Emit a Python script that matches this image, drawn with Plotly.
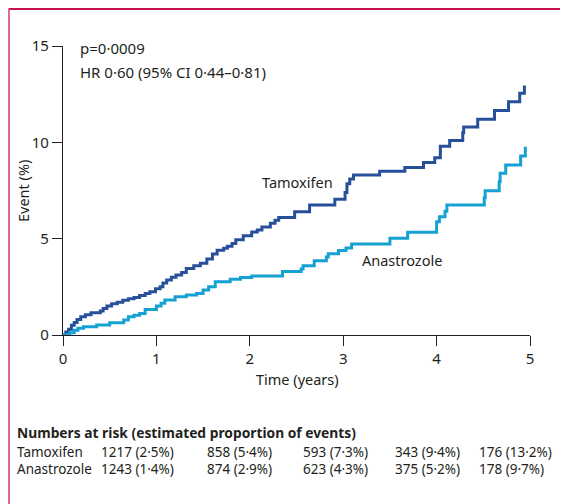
import plotly.graph_objects as go

# ---------------- data ----------------
tam_t = [0, 0.03, 0.06, 0.09, 0.12, 0.15, 0.19, 0.24, 0.30, 0.40, 0.43, 0.47, 0.52, 0.58,
         0.64, 0.70, 0.76, 0.82, 0.88, 0.93, 0.99, 1.04, 1.07, 1.11, 1.16, 1.21, 1.27, 1.32,
         1.40, 1.47, 1.54, 1.60, 1.65, 1.72, 1.76, 1.81, 1.85, 1.93, 2.02, 2.08, 2.13, 2.22,
         2.27, 2.31, 2.48, 2.64, 2.91, 3.02, 3.04, 3.07, 3.11, 3.39, 3.66, 3.86, 3.98, 4.04,
         4.14, 4.28, 4.29, 4.44, 4.62, 4.77, 4.89, 4.94]
tam_v = [0, 0.15, 0.3, 0.5, 0.65, 0.8, 0.95, 1.05, 1.15, 1.25, 1.38, 1.5, 1.62, 1.7,
         1.8, 1.88, 1.95, 2.05, 2.15, 2.25, 2.4, 2.5, 2.7, 2.85, 3.0, 3.12, 3.25, 3.45,
         3.6, 3.72, 3.95, 4.2, 4.4, 4.5, 4.6, 4.75, 4.95, 5.15, 5.35, 5.45, 5.6, 5.8,
         5.95, 6.1, 6.4, 6.75, 7.05, 7.4, 7.85, 8.1, 8.3, 8.5, 8.7, 8.95, 9.2, 9.8,
         10.1, 10.5, 10.8, 11.2, 11.65, 12.1, 12.55, 12.95]

ana_t = [0, 0.07, 0.12, 0.16, 0.22, 0.36, 0.50, 0.65, 0.70, 0.76, 0.82, 0.88, 1.00, 1.05,
         1.09, 1.20, 1.32, 1.43, 1.50, 1.56, 1.63, 1.79, 1.90, 2.02, 2.35, 2.55, 2.57, 2.69,
         2.82, 2.84, 2.95, 3.03, 3.09, 3.50, 3.69, 4.00, 4.03, 4.09, 4.11, 4.51, 4.52, 4.67,
         4.68, 4.74, 4.90, 4.95]
ana_v = [0, 0.12, 0.25, 0.35, 0.43, 0.52, 0.64, 0.78, 0.95, 1.02, 1.12, 1.33, 1.5, 1.65,
         1.82, 1.99, 2.08, 2.16, 2.33, 2.51, 2.77, 2.9, 2.99, 3.06, 3.29, 3.42, 3.6, 3.86,
         4.05, 4.22, 4.38, 4.52, 4.72, 5.02, 5.33, 5.88, 6.14, 6.42, 6.75, 7.13, 7.49, 7.96,
         8.39, 8.82, 9.29, 9.77]

x_ticks = [0, 1, 2, 3, 4, 5]
y_ticks = [0, 5, 10, 15]

risk_groups = ["Tamoxifen", "Anastrozole"]
risk_tam = ["1217 (2·5%)", "858 (5·4%)", "593 (7·3%)", "343 (9·4%)", "176 (13·2%)"]
risk_ana = ["1243 (1·4%)", "874 (2·9%)", "623 (4·3%)", "375 (5·2%)", "178 (9·7%)"]

# ---------------- layout helpers ----------------
OFF = 8  # page body margin
W, H = 560, 496
L, R, T, B = 55, 38, 38, 169
PW, PH = W - L - R, H - T - B


def px(x):
    return (x - OFF - L) / PW


def py(y):
    return (H - B - (y - OFF)) / PH


FONT = "Noto Sans"
TXT = "#231f20"
TAM_COL = "#27509b"
ANA_COL = "#16a1d3"

fig = go.Figure()
fig.add_trace(go.Scatter(x=tam_t, y=tam_v, mode="lines", line=dict(color=TAM_COL, width=3, shape="hv"),
                         name="Tamoxifen", showlegend=False))
fig.add_trace(go.Scatter(x=ana_t, y=ana_v, mode="lines", line=dict(color=ANA_COL, width=3, shape="hv"),
                         name="Anastrozole", showlegend=False))

ann = []
# stats
ann.append(dict(x=px(79), y=py(48), text="p=0·0009", xanchor="left", yanchor="middle", size=15))
ann.append(dict(x=px(79), y=py(72), text="HR 0·60 (95% CI 0·44–0·81)", xanchor="left", yanchor="middle", size=15))
# curve labels
ann.append(dict(x=px(297), y=py(182), text="Tamoxifen", xanchor="center", yanchor="middle", size=14.5))
ann.append(dict(x=px(402), y=py(260), text="Anastrozole", xanchor="center", yanchor="middle", size=14.5))
# axis titles
ann.append(dict(x=px(297), y=py(379), text="Time (years)", xanchor="center", yanchor="middle", size=14.5))
ann.append(dict(x=px(23), y=py(191), text="Event (%)", xanchor="center", yanchor="middle", textangle=-90, size=14.5))
# numbers at risk
ann.append(dict(x=px(16), y=py(432), text="<b>Numbers at risk (estimated proportion of events)</b>",
                xanchor="left", yanchor="middle", size=13.8))
col_x = [100, 206, 302, 394, 478]
rows = [risk_tam, risk_ana]
row_y = [452, 469]
for g, vals, yy in zip(risk_groups, rows, row_y):
    ann.append(dict(x=px(16), y=py(yy), text=g, xanchor="left", yanchor="middle", size=13.5))
    for cx, v in zip(col_x, vals):
        ann.append(dict(x=px(cx), y=py(yy), text=v, xanchor="left", yanchor="middle", size=13.5))

for a in ann:
    s = a.pop("size")
    a.update(xref="paper", yref="paper", showarrow=False, borderpad=0,
             font=dict(family=FONT, size=s, color=TXT))

shapes = [
    dict(type="line", xref="paper", yref="paper", x0=px(8.5), x1=px(580), y0=py(9), y1=py(9),
         line=dict(color="#c8104a", width=2)),
    dict(type="line", xref="paper", yref="paper", x0=px(9), x1=px(9), y0=py(9), y1=py(520),
         line=dict(color="#d86c8e", width=2)),
]

fig.update_layout(
    width=W, height=H,
    margin=dict(l=L, r=R, t=T, b=B, pad=0),
    paper_bgcolor="white", plot_bgcolor="white",
    annotations=ann, shapes=shapes,
    showlegend=False,
    xaxis=dict(range=[0, 5], tickvals=x_ticks, ticktext=[str(v) for v in x_ticks],
               showgrid=False, zeroline=False, showline=True, linecolor="#231f20", linewidth=1.3,
               ticks="outside", ticklen=10, tickwidth=1.3, tickcolor="#231f20",
               tickfont=dict(family=FONT, size=15, color=TXT), fixedrange=True),
    yaxis=dict(range=[0, 15], tickvals=y_ticks, ticktext=[str(v) for v in y_ticks],
               showgrid=False, zeroline=False, showline=True, linecolor="#231f20", linewidth=1.3,
               ticks="outside", ticklen=10, tickwidth=1.3, tickcolor="#231f20",
               tickfont=dict(family=FONT, size=15, color=TXT), fixedrange=True),
)

fig.write_html("out.html")
